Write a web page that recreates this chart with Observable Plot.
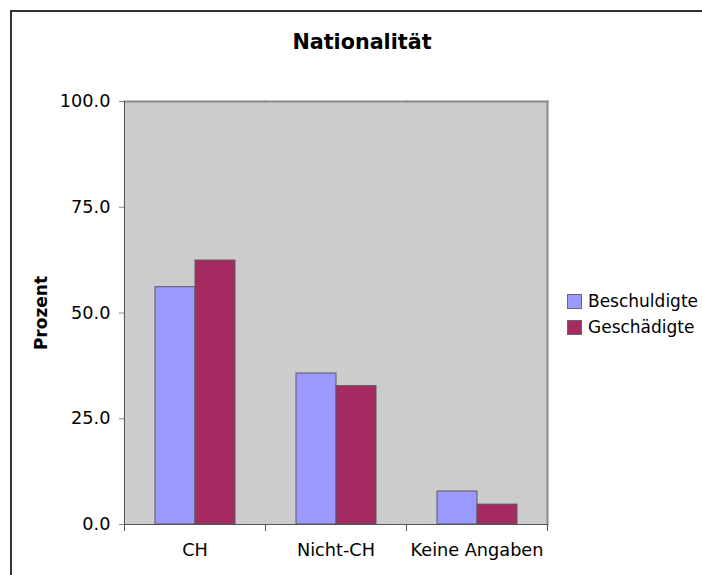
<!DOCTYPE html>
<html>
<head>
<meta charset="utf-8">
<script src="https://cdn.jsdelivr.net/npm/d3@7"></script>
<script src="https://cdn.jsdelivr.net/npm/@observablehq/plot@0.6"></script>
<style>
  html, body { margin: 0; background: #fff; overflow: hidden; }
  #wrap { position: relative; width: 702px; height: 575px; overflow: hidden; font-family: "DejaVu Sans", sans-serif; color: #000; }
  #border { position: absolute; left: 10px; top: 10px; width: 760px; height: 640px; border-left: 2px solid #333; border-top: 2px solid #333; pointer-events: none; }
  #title { position: absolute; left: 0; width: 702px; padding-left: 22px; box-sizing: border-box; top: 30px; line-height: 24px; text-align: center; font-weight: bold; font-size: 20.7px; }
  #chart { position: absolute; left: 0; top: 0; }
  #legend { position: absolute; left: 567px; top: 288px; font-size: 17px; }
  .item { display: flex; align-items: center; height: 26px; }
  .sw { width: 13px; height: 13px; border: 1px solid #666; margin-right: 6px; }
  #chart svg g[aria-label="y-axis label"] text { font-weight: bold; font-size: 17px; }
</style>
</head>
<body>
<div id="wrap">
  <div id="chart"></div>
  <div id="title"></div>
  <div id="legend"></div>
  <div id="border"></div>
</div>
<script>
// Data
const categories = ["CH", "Nicht-CH", "Keine Angaben"];
const series = ["Beschuldigte", "Geschädigte"];
const beschuldigte = [56.1, 35.7, 7.8];
const geschaedigte = [62.4, 32.7, 4.7];
const yTicks = [0, 25, 50, 75, 100];
const titleText = "Nationalität";
const yLabel = "Prozent";

// Styles
const colors = ["#9999ff", "#a52a62"];

const table = [];
categories.forEach((c, i) => {
  table.push({category: c, series: series[0], value: beschuldigte[i]});
  table.push({category: c, series: series[1], value: geschaedigte[i]});
});

const W = 702, H = 575, mt = 101, mb = 51, ml = 123, mr = 154;
const plotH = H - mt - mb;

const chart = Plot.plot({
  width: W, height: H,
  marginTop: mt, marginBottom: mb, marginLeft: ml, marginRight: mr,
  style: {fontFamily: "DejaVu Sans, sans-serif", fontSize: "17.7px", color: "#000", background: "transparent"},
  fx: {domain: categories, padding: 0, label: null, axis: null},
  x: {domain: series, paddingInner: 0, paddingOuter: 0.75, axis: null},
  y: {domain: [0, 100], axis: null},
  color: {domain: series, range: colors},
  marks: [
    Plot.frame({fill: "#cccccc", insetLeft: -0.75, insetRight: -0.75}),
    Plot.frame({anchor: "top", stroke: "#8c8c8c", strokeWidth: 2}),
    Plot.frame({anchor: "right", facetAnchor: "right", stroke: "#8c8c8c", strokeWidth: 2}),
    Plot.barY(table, {fx: "category", x: "series", y: "value", fill: "series", stroke: "#5a5a5a", strokeWidth: 1}),
    Plot.frame({anchor: "left", facetAnchor: "left", stroke: "#555"}),
    Plot.frame({anchor: "bottom", stroke: "#555"}),
    Plot.frame({anchor: "left", insetTop: plotH, insetBottom: -6, stroke: "#555"}),
    Plot.frame({anchor: "right", facetAnchor: "right", insetTop: plotH, insetBottom: -6, stroke: "#555"}),
    Plot.axisY({ticks: yTicks, tickFormat: d3.format(".1f"), tickSize: 5, tickPadding: 9, stroke: "#888",
      label: yLabel, labelAnchor: "center", labelOffset: 90, labelArrow: false}),
    Plot.axisFx({anchor: "bottom", tickSize: 0, tickPadding: 19, label: null})
  ]
});
document.getElementById("chart").appendChild(chart);
document.getElementById("title").textContent = titleText;

const legend = document.getElementById("legend");
series.forEach((s, i) => {
  const it = document.createElement("div");
  it.className = "item";
  const sw = document.createElement("div");
  sw.className = "sw";
  sw.style.background = colors[i];
  const t = document.createElement("span");
  t.textContent = s;
  it.appendChild(sw); it.appendChild(t);
  legend.appendChild(it);
});
</script>
</body>
</html>
